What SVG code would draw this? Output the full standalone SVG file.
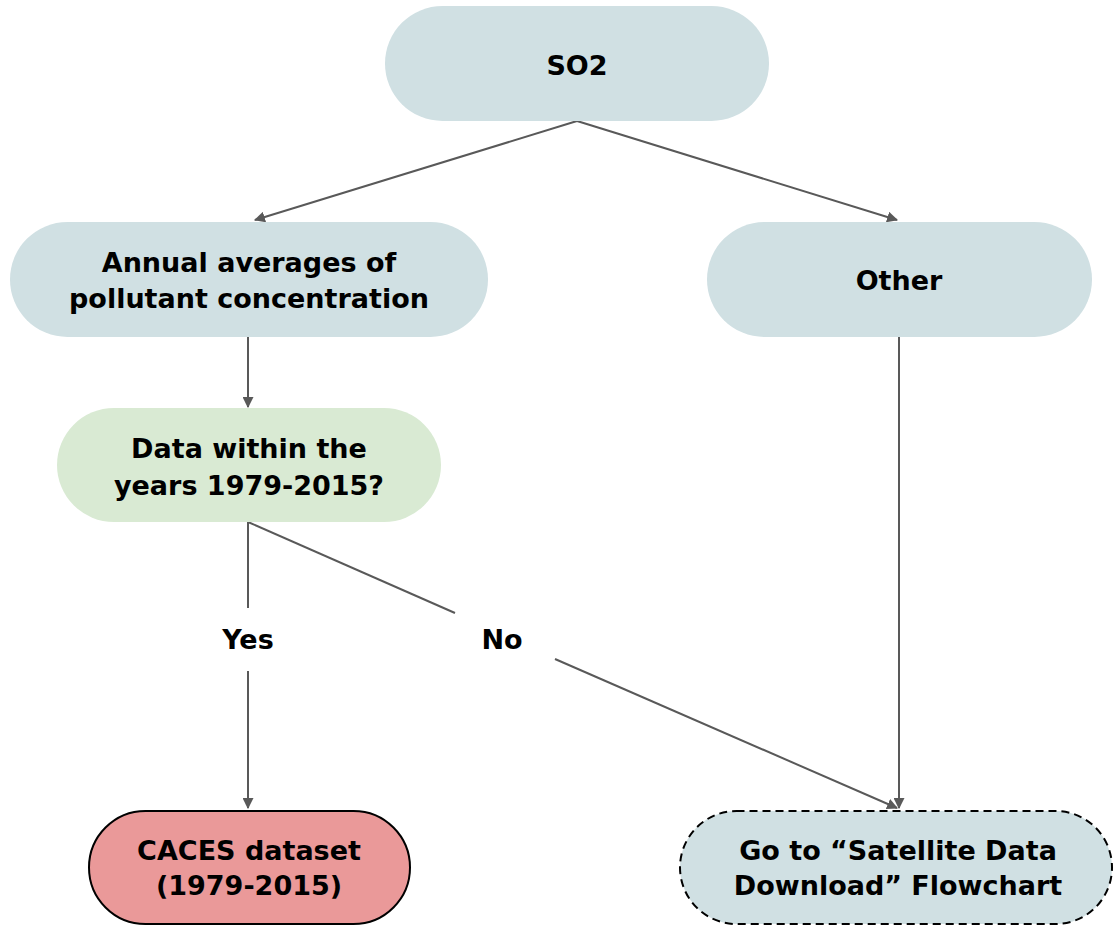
<svg xmlns="http://www.w3.org/2000/svg" width="1114" height="929" viewBox="0 0 1114 929">
  <style>
    .lbl { font-family: "DejaVu Sans", "Open Sans", sans-serif; font-weight: 700; font-size: 27px; fill: #000; text-anchor: middle; }
    .blue { fill: #d0e0e3; }
    .green { fill: #d9ead3; }
    .red { fill: #ea9999; stroke: #000; stroke-width: 2; }
    .dashed { fill: #d0e0e3; stroke: #000; stroke-width: 2; stroke-dasharray: 8 5; }
    .conn { stroke: #595959; stroke-width: 2; fill: none; }
  </style>
  <defs>
    <marker id="arrow" viewBox="0 0 10 10" refX="9" refY="5" markerWidth="5.5" markerHeight="5.5" markerUnits="strokeWidth" orient="auto">
      <path d="M0,0 L10,5 L0,10 z" fill="#595959"/>
    </marker>
  </defs>
  <rect width="1114" height="929" fill="#fff"/>

  <g id="connectors">
    <line class="conn" x1="577" y1="121" x2="255" y2="220" marker-end="url(#arrow)"/>
    <line class="conn" x1="577" y1="121" x2="897" y2="220" marker-end="url(#arrow)"/>
    <line class="conn" x1="248" y1="337" x2="248" y2="407" marker-end="url(#arrow)"/>
    <line class="conn" x1="248" y1="522" x2="248" y2="608"/>
    <line class="conn" x1="248" y1="671" x2="248" y2="808" marker-end="url(#arrow)"/>
    <line class="conn" x1="248" y1="522" x2="455" y2="613"/>
    <line class="conn" x1="555" y1="659" x2="897" y2="808" marker-end="url(#arrow)"/>
    <line class="conn" x1="899" y1="337" x2="899" y2="808" marker-end="url(#arrow)"/>
    <text class="lbl" x="248" y="649">Yes</text>
    <text class="lbl" x="502" y="649">No</text>
  </g>

  <g id="node-so2">
    <rect class="blue" x="385" y="6" width="384" height="115" rx="57.5"/>
    <text class="lbl" x="577" y="75">SO2</text>
  </g>
  <g id="node-annual">
    <rect class="blue" x="10" y="222" width="478" height="115" rx="57.5"/>
    <text class="lbl" x="249" y="272">Annual averages of</text>
    <text class="lbl" x="249" y="308">pollutant concentration</text>
  </g>
  <g id="node-other">
    <rect class="blue" x="707" y="222" width="385" height="115" rx="57.5"/>
    <text class="lbl" x="899" y="290">Other</text>
  </g>
  <g id="node-years">
    <rect class="green" x="57" y="408" width="384" height="114" rx="57"/>
    <text class="lbl" x="249" y="458">Data within the</text>
    <text class="lbl" x="249" y="495">years 1979-2015?</text>
  </g>
  <g id="node-caces">
    <rect class="red" x="89" y="811" width="321" height="113" rx="56.5"/>
    <text class="lbl" x="249" y="860">CACES dataset</text>
    <text class="lbl" x="249" y="895">(1979-2015)</text>
  </g>
  <g id="node-satellite">
    <rect class="dashed" x="680" y="811" width="432" height="113" rx="56.5"/>
    <text class="lbl" x="898" y="860">Go to “Satellite Data</text>
    <text class="lbl" x="898" y="895">Download” Flowchart</text>
  </g>
</svg>
